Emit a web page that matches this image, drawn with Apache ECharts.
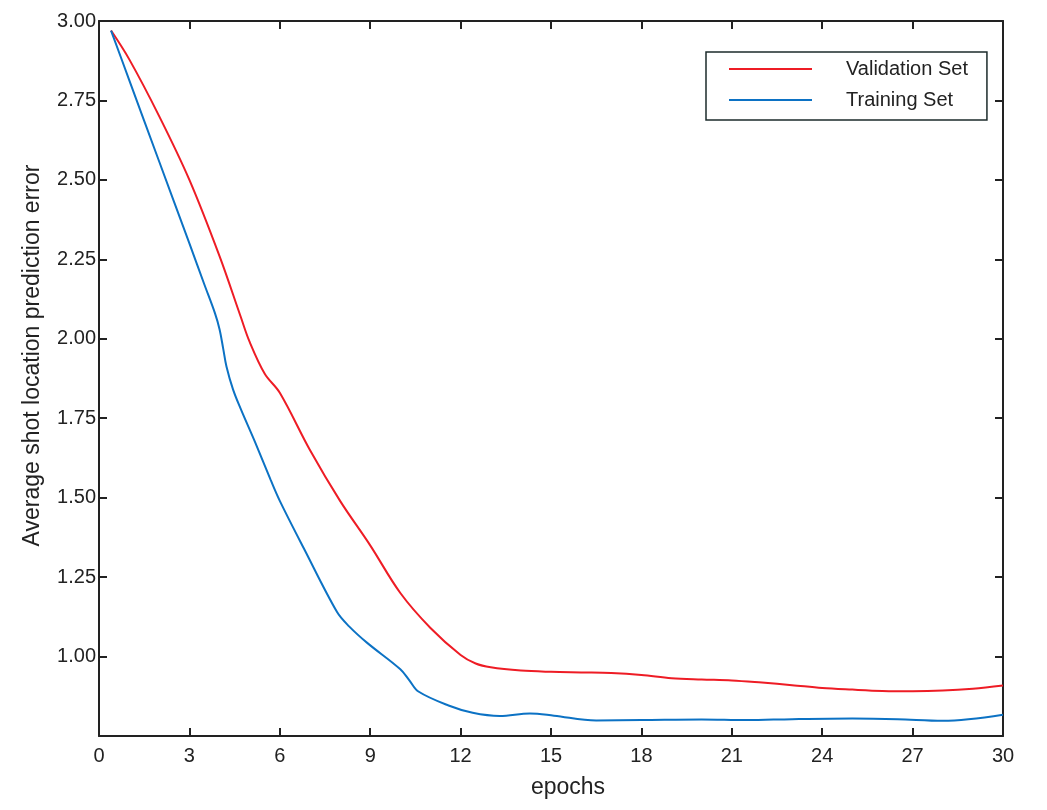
<!DOCTYPE html>
<html>
<head>
<meta charset="utf-8">
<script src="https://cdn.jsdelivr.net/npm/echarts@6/dist/echarts.min.js"></script>
<style>
  html, body { margin: 0; padding: 0; background: #fff; }
  #chart { width: 1047px; height: 810px; }
</style>
</head>
<body>
<div id="chart"></div>
<script>
  // 数据
  const valEpochs = [0.4, 1, 2, 3, 4, 4.7, 5, 5.5, 6, 7, 8, 9, 10, 11, 12, 12.5, 13, 14, 15, 16, 17, 18, 19, 20, 21, 22, 23, 24, 25, 26, 27, 28, 29, 30]
  const valError = [2.97, 2.88, 2.70, 2.50, 2.26, 2.07, 1.99, 1.89, 1.83, 1.65, 1.49, 1.35, 1.20, 1.09, 1.005, 0.978, 0.966, 0.956, 0.952, 0.950, 0.948, 0.942, 0.932, 0.928, 0.925, 0.918, 0.910, 0.901, 0.896, 0.892, 0.891, 0.893, 0.899, 0.909]

  const trainEpochs = [0.4, 1, 2, 3, 3.5, 3.85, 4.0, 4.12, 4.23, 4.45, 4.7, 5.2, 5.7, 6, 6.8, 7.9, 8.3, 8.9, 10, 10.3, 10.6, 11.6, 12.4, 13.3, 14.3, 15.1, 16.5, 18, 20, 21.5, 23, 25, 26.5, 28, 30]
  const trainError = [2.97, 2.815, 2.557, 2.30, 2.17, 2.08, 2.03, 1.97, 1.913, 1.84, 1.78, 1.67, 1.555, 1.49, 1.34, 1.14, 1.095, 1.043, 0.96, 0.925, 0.89, 0.846, 0.823, 0.813, 0.821, 0.814, 0.799, 0.800, 0.802, 0.800, 0.803, 0.805, 0.803, 0.798, 0.817]

  const seriesNames = ['Validation Set', 'Training Set']

  const pairs = (xs, ys) => xs.map((x, i) => [x, ys[i]])

  const axisColor = '#222'
  const fontFamily = '"Liberation Sans", Arial, sans-serif'

  // 边框轴：只画线和内刻度
  const frameAxis = (extra) => Object.assign({
    axisLine: { show: true, onZero: false, lineStyle: { color: axisColor, width: 2 } },
    axisTick: { show: true, inside: true, length: 8, lineStyle: { color: axisColor, width: 2 } },
    axisLabel: { show: false },
    splitLine: { show: false }
  }, extra)

  let chart = echarts.init(document.getElementById('chart'))

  chart.setOption({
    animation: false,
    color: ['#ee1c25', '#0c72c4'],
    textStyle: { fontFamily: fontFamily },
    grid: { left: 99, right: 44, top: 21, bottom: 74 },
    legend: {
      data: seriesNames,
      orient: 'vertical',
      left: 706,
      top: 52,
      padding: [6, 19, 9, 23],
      icon: 'rect',
      itemWidth: 83,
      itemHeight: 2,
      itemGap: 9,
      borderColor: '#1c2b2b',
      borderWidth: 1.5,
      borderRadius: 0,
      textStyle: {
        color: '#222',
        fontSize: 20,
        lineHeight: 22,
        padding: [0, 0, 0, 29]
      }
    },
    xAxis: [
      frameAxis({
        type: 'value',
        min: 0,
        max: 30,
        interval: 3,
        name: 'epochs',
        nameLocation: 'middle',
        nameGap: 40,
        nameTextStyle: { color: '#222', fontSize: 23, padding: [0, 0, 0, 34] },
        axisLabel: { show: true, color: '#222', fontSize: 20, margin: 10 }
      }),
      frameAxis({ type: 'value', position: 'top', min: 0, max: 30, interval: 3 })
    ],
    yAxis: [
      frameAxis({
        type: 'value',
        min: 0.75,
        max: 3.0,
        interval: 0.25,
        name: 'Average shot location prediction error',
        nameLocation: 'middle',
        nameGap: 55,
        nameTextStyle: { color: '#222', fontSize: 23, padding: [0, 0, 0, 46] },
        axisLabel: {
          show: true,
          color: '#222',
          fontSize: 20,
          margin: 3,
          formatter: v => (v < 0.9 ? '' : v.toFixed(2))
        }
      }),
      frameAxis({ type: 'value', position: 'right', min: 0.75, max: 3.0, interval: 0.25 })
    ],
    series: [
      {
        name: seriesNames[0],
        type: 'line',
        smooth: 0.35,
        symbol: 'none',
        lineStyle: { width: 2 },
        data: pairs(valEpochs, valError)
      },
      {
        name: seriesNames[1],
        type: 'line',
        smooth: 0.35,
        symbol: 'none',
        lineStyle: { width: 2 },
        data: pairs(trainEpochs, trainError)
      }
    ]
  })
</script>
</body>
</html>
